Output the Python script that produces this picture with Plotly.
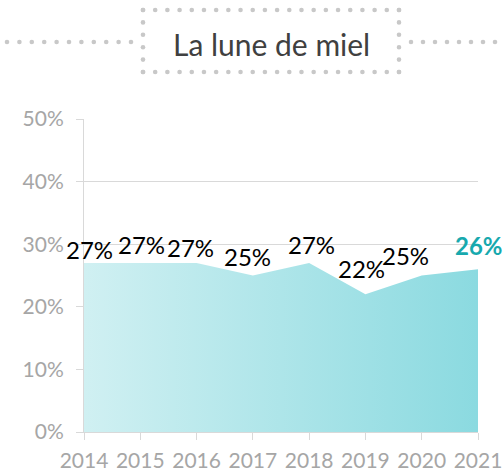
import plotly.graph_objects as go

years = [2014, 2015, 2016, 2017, 2018, 2019, 2020, 2021]
share = [0.27, 0.27, 0.27, 0.25, 0.27, 0.22, 0.25, 0.26]
labels = ["27%", "27%", "27%", "25%", "27%", "22%", "25%", "26%"]
title_text = "La lune de miel"

# label nudges in pixels (dx, dy) – styling only
label_dx = [5, 1, -6, -5, 2, -4, -16, 1]
label_dy = [13.5, 18.5, 15.5, 19.5, 18.5, 26, 20.5, 23.5]

W, H = 504, 475
ML, MR, MT, MB = 84, 26, 119, 43
PW, PH = W - ML - MR, H - MT - MB

FONT = "Lato"
GRID = "#d9d9d9"
TICKC = "#a6a6a6"

fig = go.Figure()
fig.add_trace(go.Scatter(
    x=years, y=share, mode="lines", line=dict(width=0),
    fill="tozeroy",
    fillgradient=dict(type="horizontal",
                      colorscale=[[0, "rgb(208,240,242)"], [1, "rgb(139,218,224)"]]),
    hoverinfo="skip", showlegend=False,
))

annotations = []
for i, (x, y, t) in enumerate(zip(years, share, labels)):
    last = i == len(years) - 1
    annotations.append(dict(
        x=x, y=y, xref="x", yref="y", text=("<b>%s</b>" % t) if last else t,
        showarrow=False, xanchor="center", yanchor="middle",
        xshift=label_dx[i], yshift=label_dy[i],
        font=dict(family=FONT, size=24, color="#17a9ae" if last else "#000000"),
    ))

def px2paper(px, py):
    return (px - ML) / PW, (H - MB - py) / PH

# title
tx, ty = px2paper(271, 44)
annotations.append(dict(x=tx, y=ty, xref="paper", yref="paper", text=title_text,
                        showarrow=False, xanchor="center", yanchor="middle",
                        font=dict(family=FONT, size=30, color="#404040")))

# dotted decoration
shapes = []
dots = []
def line_dots(x0, y0, x1, y1, step):
    import math
    n = max(1, int(round(math.hypot(x1 - x0, y1 - y0) / step)))
    return [(x0 + (x1 - x0) * k / n, y0 + (y1 - y0) * k / n) for k in range(n + 1)]

bx0, bx1, by0, by1 = 143, 399, 10, 72
dots += line_dots(bx0, by0, bx1, by0, 12)
dots += line_dots(bx0, by1, bx1, by1, 12)
dots += line_dots(bx0, by0, bx0, by1, 11.5)
dots += line_dots(bx1, by0, bx1, by1, 11.5)
dots += line_dots(7, 42, 131, 42, 12)
dots += line_dots(411, 42, 507, 42, 12)
for (px, py) in dots:
    ax, ay = px2paper(px, py)
    shapes.append(dict(type="circle", xref="paper", yref="paper",
                       xsizemode="pixel", ysizemode="pixel",
                       xanchor=ax, yanchor=ay, x0=-2.3, x1=2.3, y0=-2.3, y1=2.3,
                       fillcolor="#c8c8c8", line=dict(width=0), layer="above"))

fig.update_layout(
    width=W, height=H, margin=dict(l=ML, r=MR, t=MT, b=MB, pad=0, autoexpand=False),
    paper_bgcolor="white", plot_bgcolor="white",
    annotations=annotations, shapes=shapes, showlegend=False,
    xaxis=dict(range=[2014, 2021], tickvals=years, ticktext=[str(y) for y in years],
               automargin=False,
               showgrid=False, zeroline=False, showline=True, linecolor=GRID, linewidth=1,
               ticks="outside", ticklen=7, tickcolor=GRID, ticklabelstandoff=3,
               tickfont=dict(family=FONT, size=21, color=TICKC)),
    yaxis=dict(range=[0, 0.5], dtick=0.1, tickformat=".0%", automargin=False,
               showgrid=True, gridcolor=GRID, gridwidth=1, zeroline=False,
               showline=True, linecolor=GRID, linewidth=1,
               ticks="outside", ticklen=7, tickcolor=GRID, ticklabelstandoff=8,
               tickfont=dict(family=FONT, size=21, color=TICKC)),
)

fig.write_html("out.html", config={"displayModeBar": False},
               post_script="document.body.style.margin='0px';document.body.style.overflow='hidden';")
